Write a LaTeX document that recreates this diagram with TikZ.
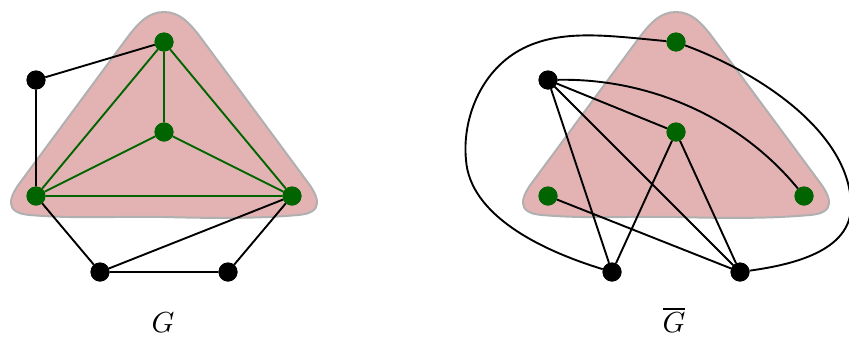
\documentclass[tikz,border=0pt]{standalone}
\begin{document}
\begin{tikzpicture}[x=1pt,y=-1pt,
  vtx/.style={circle,fill=black,inner sep=0pt,minimum size=19pt},
  gvtx/.style={circle,fill=ggreen,inner sep=0pt,minimum size=19pt},
  bedge/.style={draw=black,line width=1.9pt},
  gedge/.style={draw=ggreen,line width=1.9pt},
  blobstyle/.style={fill=blobfill,draw=blobdraw,line width=2pt},
  lbl/.style={inner sep=0pt}]
\definecolor{ggreen}{HTML}{006400}
\definecolor{blobfill}{HTML}{E3B3B4}
\definecolor{blobdraw}{HTML}{B0B0B0}
\tikzset{blob/.pic={
  \path[blobstyle] (0,12) .. controls (-15,12) and (-25,22) .. (-37,38) -- (-142,180)
   .. controls (-156,198) and (-160,213) .. (-134,215)
   .. controls (-90,219) and (-40,216) .. (0,217)
   .. controls (40,218) and (90,219) .. (134,215)
   .. controls (160,213) and (156,198) .. (142,180) -- (37,38)
   .. controls (25,22) and (15,12) .. (0,12) -- cycle;
}}
\useasboundingbox (0,0) rectangle (849,338);
% ---------- G ----------
\pic at (164,0) {blob};
\node[vtx] (a) at (36,80) {};
\node[gvtx] (t) at (164,42) {};
\node[gvtx] (c) at (164,132) {};
\node[gvtx] (l) at (36,196) {};
\node[gvtx] (r) at (292,196) {};
\node[vtx] (b1) at (100,272) {};
\node[vtx] (b2) at (228,272) {};
\path[bedge] (a) -- (t) (a) -- (l) (l) -- (b1) (b1) -- (b2) (b2) -- (r) (b1) -- (r);
\path[gedge] (t) -- (c) (t) -- (l) (t) -- (r) (c) -- (l) (c) -- (r) (l) -- (r);
\node[vtx] at (a) {};
\node[gvtx] at (t) {};
\node[gvtx] at (c) {};
\node[gvtx] at (l) {};
\node[gvtx] at (r) {};
\node[vtx] at (b1) {};
\node[vtx] at (b2) {};
\node[lbl] (gl) at (163,323) {\scalebox{2.9}{$G$}};
% ---------- complement ----------
\pic at (676,0) {blob};
\node[vtx] (A) at (548,80) {};
\node[gvtx] (T) at (676,42) {};
\node[gvtx] (C) at (676,132) {};
\node[gvtx] (L) at (548,196) {};
\node[gvtx] (R) at (804,196) {};
\node[vtx] (B1) at (612,272) {};
\node[vtx] (B2) at (740,272) {};
\path[bedge] (A) -- (B1) (A) -- (C) (A) -- (B2) (C) -- (B1) (C) -- (B2) (L) -- (B2);
\path[bedge] (A) .. controls (650,78) and (740,118) .. (R);
\path[bedge] (T) .. controls (610,36) and (560,28) .. (520,50)
  .. controls (480,72) and (462,120) .. (466,160)
  .. controls (470,215) and (540,250) .. (B1);
\path[bedge] (T) .. controls (765,75) and (850,135) .. (851,205)
  .. controls (852,252) and (790,265) .. (B2);
\node[vtx] at (A) {};
\node[gvtx] at (T) {};
\node[gvtx] at (C) {};
\node[gvtx] at (L) {};
\node[gvtx] at (R) {};
\node[vtx] at (B1) {};
\node[vtx] at (B2) {};
\node[lbl] (gbl) at (674,320) {\scalebox{2.9}{$\overline{G}$}};
\end{tikzpicture}
\end{document}
